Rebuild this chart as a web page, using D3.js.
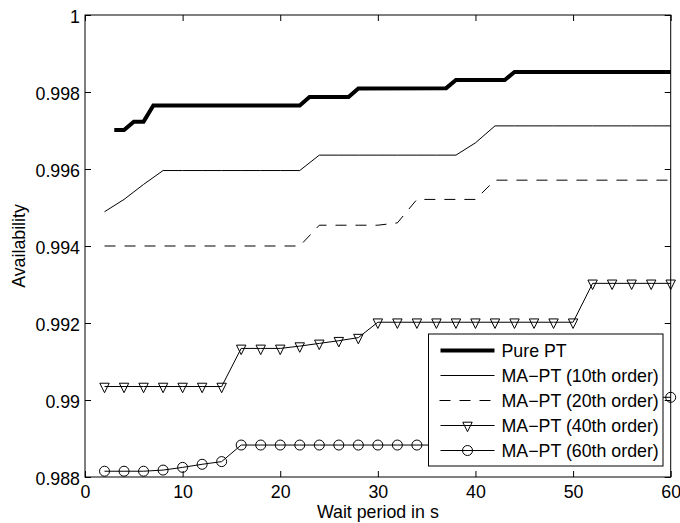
<!DOCTYPE html>
<html>
<head>
<meta charset="utf-8">
<script src="https://cdn.jsdelivr.net/npm/d3@7"></script>
<style>
  html, body { margin: 0; padding: 0; background: #fff; }
  svg { display: block; }
  text { font-family: "Liberation Sans", Arial, Helvetica, sans-serif; fill: #000; }
</style>
</head>
<body>
<svg id="chart" width="680" height="523"></svg>
<script>
// ---------- data ----------
const pureX = [3, 4, 5, 6, 7, 22, 23, 27, 28, 37, 38, 43, 44, 60];
const pureY = [0.99701, 0.99701, 0.99723, 0.99723, 0.99765, 0.99765, 0.99787, 0.99787, 0.99809, 0.99810, 0.99831, 0.99831, 0.99852, 0.99852];

const waitX = [2, 4, 6, 8, 10, 12, 14, 16, 18, 20, 22, 24, 26, 28, 30, 32, 34, 36, 38, 40, 42, 44, 46, 48, 50, 52, 54, 56, 58, 60];

const ma10 = [0.99489, 0.99521, 0.99560, 0.99596, 0.99596, 0.99596, 0.99596, 0.99596, 0.99596, 0.99596, 0.99596,
              0.99636, 0.99636, 0.99636, 0.99636, 0.99636, 0.99636, 0.99636, 0.99636, 0.99668,
              0.99712, 0.99712, 0.99712, 0.99712, 0.99712, 0.99712, 0.99712, 0.99712, 0.99712, 0.99712];

const ma20 = [0.99400, 0.99400, 0.99400, 0.99400, 0.99400, 0.99400, 0.99400, 0.99400, 0.99400, 0.99400, 0.99400,
              0.99454, 0.99454, 0.99454, 0.99454, 0.99460, 0.99521, 0.99521, 0.99521, 0.99521,
              0.99571, 0.99571, 0.99571, 0.99571, 0.99571, 0.99571, 0.99571, 0.99571, 0.99571, 0.99571];

const ma40 = [0.99035, 0.99035, 0.99035, 0.99035, 0.99035, 0.99035, 0.99035,
              0.99134, 0.99134, 0.99134, 0.99140, 0.99147, 0.99154, 0.99162,
              0.99202, 0.99202, 0.99202, 0.99202, 0.99202, 0.99202, 0.99202, 0.99202, 0.99202, 0.99202, 0.99202,
              0.99303, 0.99303, 0.99303, 0.99303, 0.99303];

const ma60 = [0.98815, 0.98815, 0.98815, 0.98818, 0.98825, 0.98833, 0.98840,
              0.98883, 0.98883, 0.98883, 0.98883, 0.98883, 0.98883, 0.98883, 0.98883, 0.98883,
              0.98883, 0.98883, 0.98883, 0.98883, 0.98883, 0.98883, 0.98883, 0.98883,
              0.99007, 0.99007, 0.99007, 0.99007, 0.99007, 0.99007];

const xTicks = [0, 10, 20, 30, 40, 50, 60];
const yTicks = [0.988, 0.99, 0.992, 0.994, 0.996, 0.998, 1];
const yTickLabels = ["0.988", "0.99", "0.992", "0.994", "0.996", "0.998", "1"];
const legendLabels = ["Pure PT", "MA\u2212PT (10th order)", "MA\u2212PT (20th order)", "MA\u2212PT (40th order)", "MA\u2212PT (60th order)"];
const xLabel = "Wait period in s";
const yLabel = "Availability";

// ---------- layout ----------
const L = 85, R = 670.7, T = 15, B = 477;
const FS = 17.8;

const svg = d3.select("#chart");
const xs = d3.scaleLinear().domain([0, 60]).range([L, R]);
const ys = d3.scaleLinear().domain([0.988, 1]).range([B, T]);

// axes with inward ticks
const axB = svg.append("g").attr("transform", `translate(0,${B})`)
  .call(d3.axisBottom(xs).tickValues(xTicks).tickSizeInner(-6).tickSizeOuter(0).tickPadding(8).tickFormat(d3.format("d")));
const axT = svg.append("g").attr("transform", `translate(0,${T})`)
  .call(d3.axisTop(xs).tickValues(xTicks).tickSizeInner(-6).tickSizeOuter(0).tickFormat(() => ""));
const axL = svg.append("g").attr("transform", `translate(${L},0)`)
  .call(d3.axisLeft(ys).tickValues(yTicks).tickSizeInner(-6).tickSizeOuter(0).tickPadding(5)
    .tickFormat((d, i) => yTickLabels[i]));
const axR = svg.append("g").attr("transform", `translate(${R},0)`)
  .call(d3.axisRight(ys).tickValues(yTicks).tickSizeInner(-6).tickSizeOuter(0).tickFormat(() => ""));

[axB, axT, axL, axR].forEach(a => {
  a.select(".domain").remove();
  a.selectAll(".tick line").attr("stroke", "#000").attr("stroke-width", 1);
  a.selectAll("text").attr("font-size", FS).attr("fill", "#000")
    .attr("font-family", "'Liberation Sans', Arial, sans-serif");
});
axL.selectAll("text").attr("dy", "0.4em");

// frame
svg.append("rect").attr("x", L).attr("y", T).attr("width", R - L).attr("height", B - T)
  .attr("fill", "none").attr("stroke", "#000").attr("stroke-width", 1);

// axis labels
svg.append("text").attr("x", (L + R) / 2).attr("y", 517.5).attr("text-anchor", "middle")
  .attr("font-size", FS).text(xLabel);
svg.append("text").attr("transform", `translate(25,${(T + B) / 2}) rotate(-90)`)
  .attr("text-anchor", "middle").attr("font-size", FS).text(yLabel);

// lines
const line = d3.line().x(d => xs(d[0])).y(d => ys(d[1]));
const g = svg.append("g");

g.append("path").datum(pureX.map((x, i) => [x, pureY[i]]))
  .attr("d", line).attr("fill", "none").attr("stroke", "#000").attr("stroke-width", 4)
  .attr("stroke-linejoin", "miter");
g.append("path").datum(waitX.map((x, i) => [x, ma10[i]]))
  .attr("d", line).attr("fill", "none").attr("stroke", "#000").attr("stroke-width", 1);
g.append("path").datum(waitX.map((x, i) => [x, ma20[i]]))
  .attr("d", line).attr("fill", "none").attr("stroke", "#000").attr("stroke-width", 1)
  .attr("stroke-dasharray", "11,9");
const d40 = waitX.map((x, i) => [x, ma40[i]]);
const d60 = waitX.map((x, i) => [x, ma60[i]]);
g.append("path").datum(d40).attr("d", line).attr("fill", "none").attr("stroke", "#000").attr("stroke-width", 1);
g.append("path").datum(d60).attr("d", line).attr("fill", "none").attr("stroke", "#000").attr("stroke-width", 1);

function tri(sel) {
  sel.attr("d", "M-4.7,-3.3L4.7,-3.3L0,6.2Z").attr("fill", "none").attr("stroke", "#000").attr("stroke-width", 1);
}
g.selectAll(".tri").data(d40).enter().append("path").attr("class", "tri")
  .attr("transform", d => `translate(${xs(d[0])},${ys(d[1])})`).call(tri);
g.selectAll(".circ").data(d60).enter().append("circle").attr("class", "circ")
  .attr("cx", d => xs(d[0])).attr("cy", d => ys(d[1])).attr("r", 5)
  .attr("fill", "none").attr("stroke", "#000").attr("stroke-width", 1);

// legend
const lg = svg.append("g");
lg.append("rect").attr("x", 428.5).attr("y", 334).attr("width", 234.5).attr("height", 132)
  .attr("fill", "#fff").attr("stroke", "#000").attr("stroke-width", 1);
const rowY = i => 350.5 + i * 25;
const lx0 = 440.5, lx1 = 494.5, lxm = (lx0 + lx1) / 2;
legendLabels.forEach((lab, i) => {
  const y = rowY(i);
  const ln = lg.append("line").attr("x1", lx0).attr("x2", lx1).attr("y1", y).attr("y2", y)
    .attr("stroke", "#000").attr("stroke-width", i === 0 ? 4 : 1);
  if (i === 2) ln.attr("stroke-dasharray", "11,9").attr("x1", lx0 - 1);
  if (i === 3) lg.append("path").attr("transform", `translate(${lxm},${y})`).call(tri);
  if (i === 4) lg.append("circle").attr("cx", lxm).attr("cy", y).attr("r", 5)
    .attr("fill", "none").attr("stroke", "#000").attr("stroke-width", 1);
  lg.append("text").attr("x", 501.5).attr("y", y).attr("dy", "0.36em")
    .attr("font-size", FS).text(lab);
});
</script>
</body>
</html>
